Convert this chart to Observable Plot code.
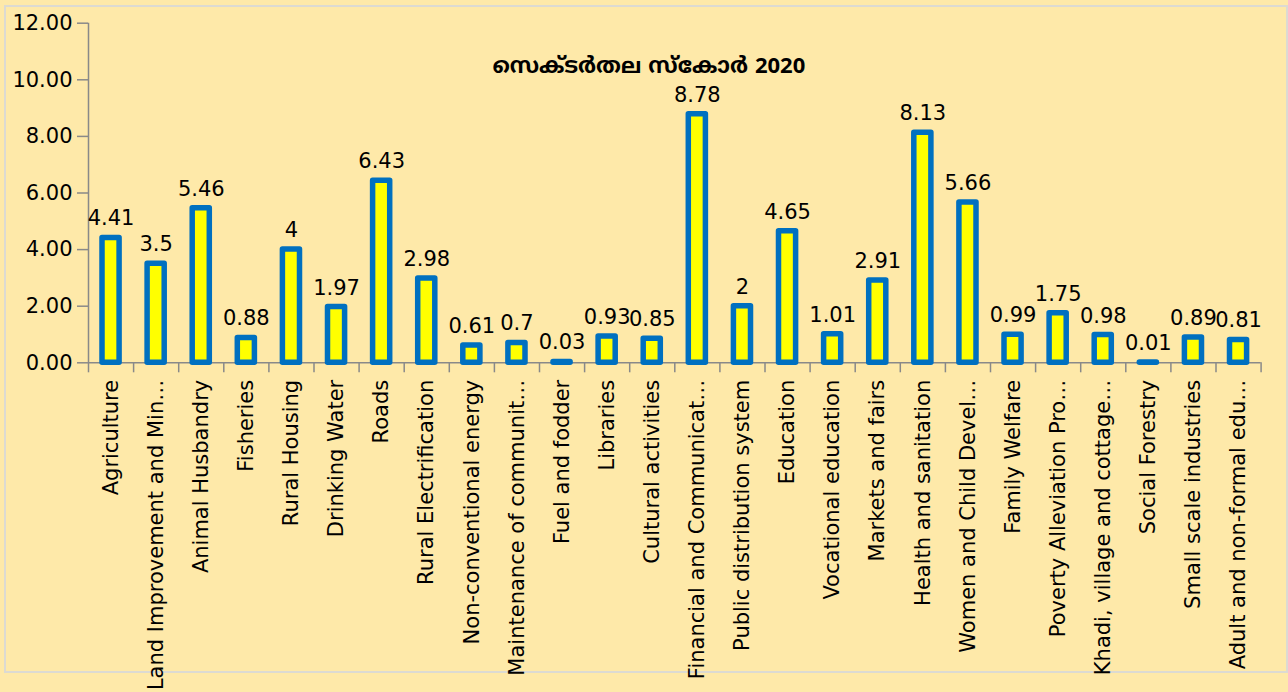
<!DOCTYPE html>
<html><head><meta charset="utf-8">
<script src="https://cdn.jsdelivr.net/npm/d3@7"></script>
<script src="https://cdn.jsdelivr.net/npm/@observablehq/plot@0.6"></script>
<style>
html,body{margin:0;padding:0;background:#FEE9A9;width:1288px;height:692px;overflow:hidden}
#frame{position:absolute;left:4px;top:5px;width:1280px;height:664px;border:2px solid #DCDAD2;}
#chart{position:absolute;left:0;top:0}
</style></head><body>
<div id="frame"></div><div id="chart"></div>
<script>
const categories = ["Agriculture","Land Improvement and Minor Irrigation","Animal Husbandry","Fisheries","Rural Housing","Drinking Water","Roads","Rural Electrification","Non-conventional energy","Maintenance of community assets","Fuel and fodder","Libraries","Cultural activities","Financial and Communication Infrastructure","Public distribution system","Education","Vocational education","Markets and fairs","Health and sanitation","Women and Child Development","Family Welfare","Poverty Alleviation Programme","Khadi, village and cottage industries","Social Forestry","Small scale industries","Adult and non-formal education"];
const tickLabels = ["Agriculture","Land Improvement and Min…","Animal Husbandry","Fisheries","Rural Housing","Drinking Water","Roads","Rural Electrification","Non-conventional energy","Maintenance of communit…","Fuel and fodder","Libraries","Cultural activities","Financial and Communicat…","Public distribution system","Education","Vocational education","Markets and fairs","Health and sanitation","Women and Child Devel…","Family Welfare","Poverty Alleviation Pro…","Khadi, village and cottage…","Social Forestry","Small scale industries","Adult and non-formal edu…"];
const scores = [4.41,3.5,5.46,0.88,4,1.97,6.43,2.98,0.61,0.7,0.03,0.93,0.85,8.78,2,4.65,1.01,2.91,8.13,5.66,0.99,1.75,0.98,0.01,0.89,0.81];
const yTicks = [0,2,4,6,8,10,12];
const title = "സെക്ടർതല സ്കോർ 2020";

const data = categories.map((c, i) => ({category: c, label: tickLabels[i], score: scores[i], i}));
const boundaryTicks = categories.map((_, i) => i).concat([categories.length]);
const centerTicks = categories.map((_, i) => i + 0.5);

const plot = Plot.plot({
  width: 1288, height: 692,
  marginLeft: 88, marginRight: 27.4, marginTop: 22.7, marginBottom: 329.7,
  style: {background: "transparent", fontFamily: "'DejaVu Sans', sans-serif", fontSize: "21px", color: "#000"},
  x: {type: "linear", domain: [0, categories.length], axis: null},
  y: {domain: [0, 12], axis: null},
  marks: [
    Plot.axisY({ticks: yTicks, tickFormat: d3.format(".2f"), label: null, tickSize: 11, tickPadding: 5, stroke: "#898989", strokeWidth: 1.5, strokeOpacity: 1, fill: "#000", fontSize: 21}),
    Plot.axisX({ticks: boundaryTicks, tickFormat: () => "", label: null, tickSize: 10, stroke: "#898989", strokeWidth: 1.5, strokeOpacity: 1}),
    Plot.axisX({ticks: centerTicks, tickFormat: t => tickLabels[Math.floor(t)], label: null, tickSize: 0, tickPadding: 17, tickRotate: -90, fill: "#000", fontSize: 21}),
    Plot.ruleX([0], {stroke: "#898989", strokeWidth: 1.5}),
    Plot.ruleY([0], {stroke: "#898989", strokeWidth: 1.5}),
    Plot.rectY(data, {x1: d => d.i, x2: d => d.i + 1, y: "score", insetLeft: 14, insetRight: 14, fill: "#FFFF00", stroke: "#0070C0", strokeWidth: 5.5, strokeLinejoin: "round"}),
    Plot.text(data, {x: d => d.i + 0.5, y: "score", text: d => String(d.score), lineAnchor: "bottom", dy: -12.5, fontSize: 21, fill: "#000"}),
    Plot.text([title], {text: d => d, frameAnchor: "top", lineAnchor: "bottom", dx: -26, dy: 50, fontSize: 22, fontWeight: "bold", fill: "#000", fontFamily: "'Noto Sans Malayalam','Noto Sans','DejaVu Sans',sans-serif"})
  ]
});
document.getElementById("chart").appendChild(plot);
</script>
</body></html>
